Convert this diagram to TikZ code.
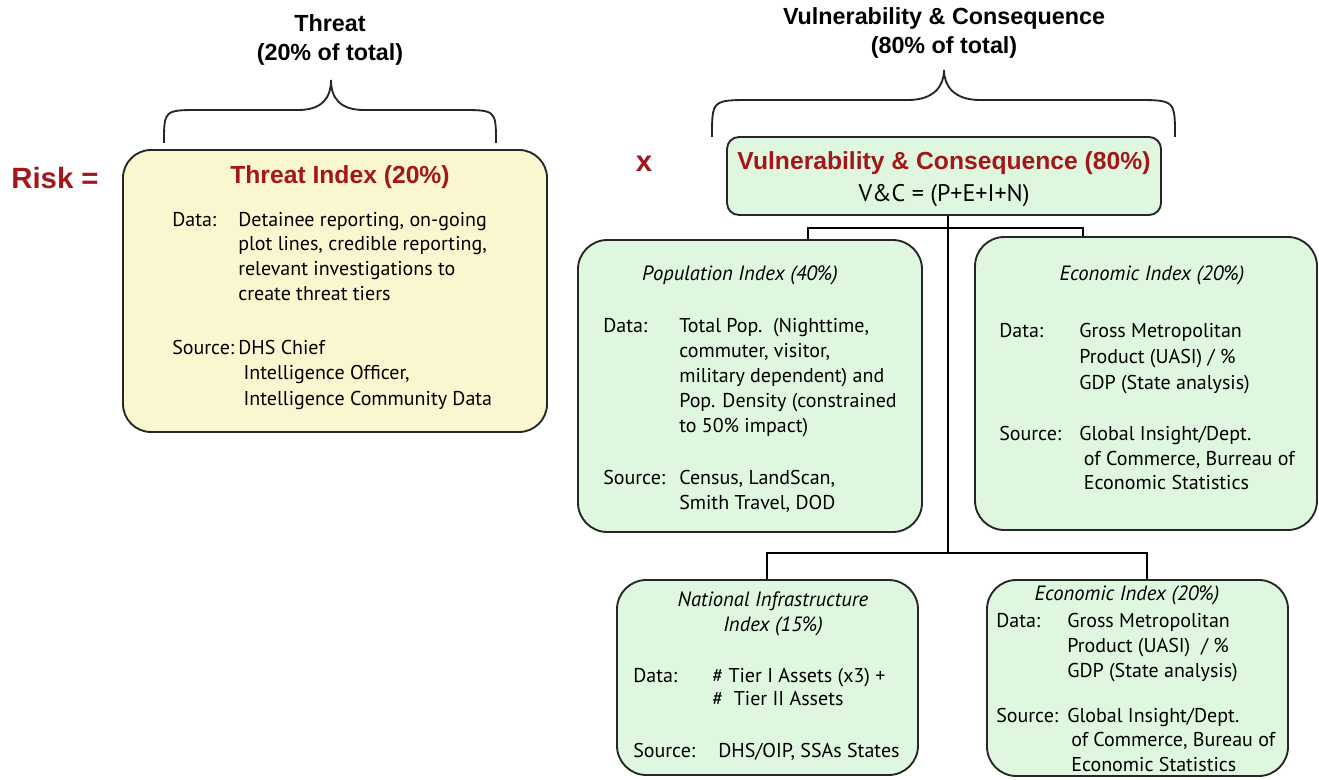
\documentclass[tikz,border=0pt]{standalone}
\usepackage{fontspec}
\setmainfont{PT Sans}
\newfontfamily\headfont{Liberation Sans}
\definecolor{darkred}{HTML}{A3161A}
\definecolor{yfill}{HTML}{FAF6D0}
\definecolor{gfill}{HTML}{DEF7DE}
\definecolor{edge}{HTML}{262626}
\tikzset{
  boxbase/.style={draw=edge, line width=1.4pt, inner sep=0pt},
  ybox/.style={boxbase, fill=yfill, rounded corners=21pt},
  gbox/.style={boxbase, fill=gfill, rounded corners=22pt},
  vcbox/.style={boxbase, fill=gfill, rounded corners=9pt},
  body/.style={inner sep=0pt, anchor=north west, align=left, font=\fontsize{15}{18.75}\selectfont},
  ititle/.style={inner sep=0pt, align=center, font=\itshape\fontsize{15.5}{18.75}\selectfont},
  redtitle/.style={inner sep=0pt, text=darkred, font=\headfont\bfseries\fontsize{18.5}{20}\selectfont},
  header/.style={inner sep=0pt, align=center, font=\headfont\bfseries\fontsize{17.5}{22}\selectfont},
  bigred/.style={inner sep=0pt, text=darkred, font=\headfont\bfseries\fontsize{22}{24}\selectfont},
  brace/.style={draw=edge, line width=1.4pt},
  conn/.style={draw=black, line width=1.2pt}
}
\begin{document}
\begin{tikzpicture}[x=0.75pt,y=-0.75pt]
\useasboundingbox (0,0) rectangle (1319,780);
% boxes
\node[ybox, minimum width=424*0.75pt, minimum height=282*0.75pt] (threat) at (335,291) {};
\node[vcbox, minimum width=434*0.75pt, minimum height=78*0.75pt] (vc) at (944,176) {};
\node[gbox, minimum width=344*0.75pt, minimum height=292*0.75pt] (pop) at (750,386) {};
\node[gbox, minimum width=342*0.75pt, minimum height=293*0.75pt] (econ) at (1146,383.5) {};
\node[gbox, minimum width=301*0.75pt, minimum height=195*0.75pt] (ni) at (767.5,677.5) {};
\node[gbox, minimum width=301*0.75pt, minimum height=196*0.75pt] (econb) at (1137.5,678) {};
% connectors
\coordinate (j1) at (948,228);
\coordinate (j2) at (948,553);
\coordinate (b1) at (808,228);
\coordinate (b2) at (1083,228);
\coordinate (c1) at (767,553);
\coordinate (c2) at (1147,553);
\draw[conn] (vc.south -| j1) -- (j2);
\draw[conn] (pop.north -| b1) -- (b1) -- (b2) -- (econ.north -| b2);
\draw[conn] (ni.north -| c1) -- (c1) -- (c2) -- (econb.north -| c2);
% braces
\draw[brace] (164,143) .. controls (164,110) .. (200,110) -- (298,110) .. controls (322,110) and (331,98) .. (331,80)
  .. controls (331,98) and (340,110) .. (364,110) -- (460,110) .. controls (496,110) .. (496,143);
\draw[brace] (712,137) .. controls (712,100) .. (752,100) -- (908,100) .. controls (934,100) and (944,86) .. (944,70)
  .. controls (944,86) and (954,100) .. (980,100) -- (1135,100) .. controls (1175,100) .. (1175,137);
% headers
\node[header] (thead) at (330,40) {Threat\\(20\% of total)};
\node[header] (vchead) at (944,33) {Vulnerability \& Consequence\\(80\% of total)};
\node[bigred] (risk) at (55,178) {Risk =};
\node[bigred] (times) at (644,164) {x};
% threat box text
\node[redtitle] (tt) at (340,177) {Threat Index (20\%)};
\node[body] (td) at (172,212) {Data:};
\node[body, font=\fontsize{15}{18.4}\selectfont] (tdc) at (238,212) {Detainee reporting, on-going\\plot lines, credible reporting,\\relevant investigations to\\create threat tiers};
\node[body] (ts) at (172,340) {Source:};
\node[body, font=\fontsize{15}{19}\selectfont] (tsc) at (238,340) {DHS Chief\\\hspace*{4pt}Intelligence Officer,\\\hspace*{4pt}Intelligence Community Data};
% vc text
\node[redtitle] (vct) at (944,163) {Vulnerability \& Consequence (80\%)};
\node[inner sep=0pt, font=\fontsize{18}{20}\selectfont] (vcf) at (944,196) {V\&C = (P+E+I+N)};
% population
\node[ititle] (pt) at (740,275) {Population Index (40\%)};
\node[body] (pd) at (603,318) {Data:};
\node[body] (pdc) at (679,318) {Total Pop.\ \ (Nighttime,\\commuter, visitor,\\military dependent) and\\Pop. Density (constrained\\to 50\% impact)};
\node[body] (ps) at (603,470) {Source:};
\node[body] (psc) at (679,470) {Census, LandScan,\\Smith Travel, DOD};
% economic
\node[ititle] (et) at (1152,275) {Economic Index (20\%)};
\node[body] (ed) at (999,323) {Data:};
\node[body, font=\fontsize{15}{19.5}\selectfont] (edc) at (1079,323) {Gross Metropolitan\\Product (UASI) / \%\\GDP (State analysis)};
\node[body] (es) at (999,426) {Source:};
\node[body, font=\fontsize{15}{18.4}\selectfont] (esc) at (1079,426) {Global Insight/Dept.\\\hspace*{3.5pt}of Commerce, Burreau of\\\hspace*{3.5pt}Economic Statistics};
% national infrastructure
\node[ititle] (nt) at (773,614) {National Infrastructure\\Index (15\%)};
\node[body] (nd) at (633,668) {Data:};
\node[body, font=\fontsize{15}{17.25}\selectfont] (ndc) at (712,668) {\# Tier I Assets (x3) +\\\#\ \ Tier II Assets};
\node[body] (ns) at (633,743) {Source:};
\node[body] (nsc) at (718,743) {DHS/OIP, SSAs States};
% economic 2
\node[ititle] (e2t) at (1127,595) {Economic Index (20\%)};
\node[body] (e2d) at (996,613) {Data:};
\node[body] (e2dc) at (1067,613) {Gross Metropolitan\\Product (UASI)\ \ / \%\\GDP (State analysis)};
\node[body] (e2s) at (996,708) {Source:};
\node[body, font=\fontsize{15}{18.3}\selectfont] (e2sc) at (1067,708) {Global Insight/Dept.\\\hspace*{3pt}of Commerce, Bureau of\\\hspace*{3pt}Economic Statistics};
\end{tikzpicture}
\end{document}
